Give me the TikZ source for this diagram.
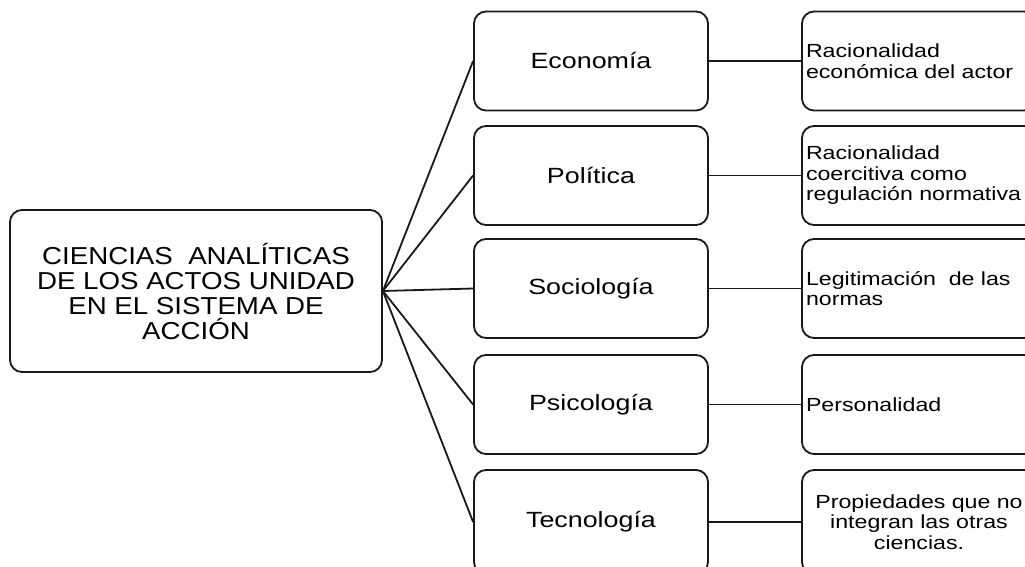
\documentclass[tikz,border=0pt]{standalone}
\usepackage{fontspec}
\newfontfamily\fa[FakeStretch=1.13]{Liberation Sans}
\newfontfamily\fb[FakeStretch=1.22]{Liberation Sans}
\tikzset{
  box/.style={draw=black!90, line width=1.8pt, rounded corners=12pt, inner sep=0pt, text=black},
  mainbox/.style={box, minimum width=372pt, minimum height=162pt, align=center,
    font=\fa\fontsize{24.5}{25}\selectfont},
  midbox/.style={box, minimum width=234pt, minimum height=99pt, align=center,
    font=\fb\fontsize{22}{24}\selectfont},
  rightbox/.style={box, minimum height=99pt, text width=226pt, inner xsep=4pt, align=left,
    font=\fb\fontsize{19}{20.5}\selectfont},
  lastbox/.style={minimum height=104pt},
  link/.style={draw=black!90, line width=1.8pt}
}
\begin{document}
\begin{tikzpicture}[x=1pt,y=-1pt]
\useasboundingbox (0,0) rectangle (1025,567);
\clip (0,0) rectangle (1025,567);
\fill[white] (0,0) rectangle (1025,567);

\node[mainbox] (c) at (196,291) {CIENCIAS~ ANALÍTICAS\\DE LOS ACTOS UNIDAD\\EN EL SISTEMA DE\\ACCIÓN};

\node[midbox] (m1) at (591,61) {Economía};
\node[midbox] (m2) at (591,175.5) {Política};
\node[midbox] (m3) at (591,288.5) {Sociología};
\node[midbox] (m4) at (591,404.5) {Psicología};
\node[midbox, lastbox] (m5) at (591,522) {Tecnología};

\node[rightbox] (r1) at (919,61) {Racionalidad\\económica del actor};
\node[rightbox] (r2) at (919,175.5) {Racionalidad\\coercitiva como\\regulación normativa};
\node[rightbox] (r3) at (919,288.5) {Legitimación~ de las\\normas};
\node[rightbox] (r4) at (919,404.5) {Personalidad};
\node[rightbox, lastbox, align=center] (r5) at (919,522) {Propiedades que no\\integran las otras\\ciencias.};

\foreach \i in {1,...,5}{
  \draw[link] (c.east) -- (m\i.west);
  \draw[link] (m\i.east) -- (r\i.west);
}
\end{tikzpicture}
\end{document}
